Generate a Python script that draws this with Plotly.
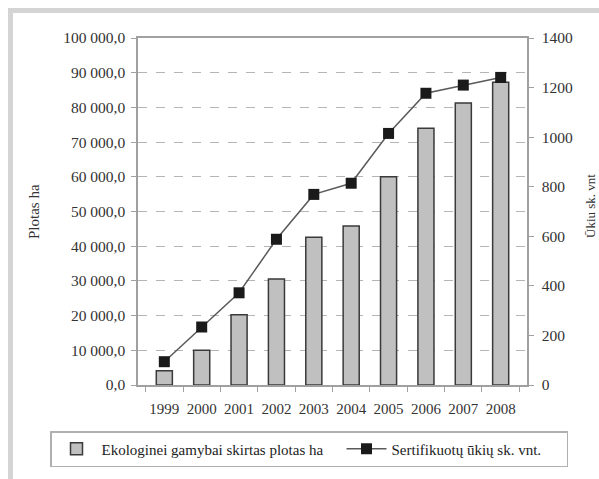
import plotly.graph_objects as go

years = ["1999", "2000", "2001", "2002", "2003", "2004", "2005", "2006", "2007", "2008"]
area_ha = [4120, 10000, 20260, 30550, 42560, 45820, 60030, 73980, 81270, 87230]
farms = [94, 234, 372, 588, 769, 814, 1015, 1177, 1210, 1241]

bar_name = "Ekologinei gamybai skirtas plotas ha"
line_name = "Sertifikuotų ūkių sk. vnt."

FONT = "Times New Roman, Liberation Serif, DejaVu Serif, serif"
TXT = "#333333"

W, H = 599, 479
L, R, T, B = 138, 527, 38, 385


def px(x):
    return (x - L) / (R - L)


def py(y):
    return (B - y) / (B - T)


fig = go.Figure()
fig.add_trace(go.Bar(
    x=years, y=area_ha, name=bar_name,
    marker=dict(color="#c0c0c0", line=dict(color="#3a3a3a", width=1.5)),
    width=0.43, legendwidth=235,
))
fig.add_trace(go.Scatter(
    x=years, y=farms, name=line_name, yaxis="y2",
    mode="lines+markers",
    line=dict(color="#5a5a5a", width=1.5),
    marker=dict(symbol="square", size=11, color="#1a1a1a"),
    legendwidth=170,
))

shapes = [
    dict(type="rect", xref="paper", yref="paper", x0=px(8), x1=px(605), y0=py(13), y1=py(8),
         fillcolor="#d4d4d4", line=dict(width=0), layer="above"),
    dict(type="rect", xref="paper", yref="paper", x0=px(8), x1=px(13), y0=py(485), y1=py(8),
         fillcolor="#d4d4d4", line=dict(width=0), layer="above"),
]

annotations = [
    dict(text="Plotas ha", xref="paper", yref="paper", x=px(34), y=py(212), textangle=-90,
         showarrow=False, font=dict(family=FONT, size=15, color=TXT), xanchor="center", yanchor="middle"),
    dict(text="Ūkiu sk. vnt", xref="paper", yref="paper", x=px(590), y=py(206), textangle=-90,
         showarrow=False, font=dict(family=FONT, size=13, color=TXT), xanchor="center", yanchor="middle"),
]

fig.update_layout(
    width=W, height=H,
    margin=dict(l=L, r=W - R, t=T, b=H - B, autoexpand=False),
    paper_bgcolor="white", plot_bgcolor="white",
    separators=", ",
    font=dict(family=FONT, size=15, color=TXT),
    shapes=shapes, annotations=annotations,
    showlegend=True,
    legend=dict(
        orientation="h",
        x=px(50), xanchor="left", y=py(431), yanchor="top",
        bordercolor="#b0b0b0", borderwidth=1.5, bgcolor="white",
        font=dict(family=FONT, size=15, color="#222222"),
        itemwidth=40, traceorder="normal",
    ),
    xaxis=dict(
        type="category", showline=True, linecolor="#a0a0a0", linewidth=1.5, mirror=True,
        ticks="outside", ticklen=5, tickcolor="#a0a0a0", tickson="boundaries",
        tickangle=0,
        tickfont=dict(family=FONT, size=15, color=TXT), ticklabelstandoff=9,
        showgrid=False,
    ),
    yaxis=dict(
        range=[0, 100000], tickvals=[i * 10000 for i in range(11)], tickformat=",.1f",
        showline=True, linecolor="#a0a0a0", linewidth=1.5,
        ticks="outside", ticklen=5, tickcolor="#a0a0a0", ticklabelstandoff=3,
        showgrid=True, gridcolor="#b5b5b5", griddash="dash", gridwidth=1,
        zeroline=False, tickfont=dict(family=FONT, size=15.5, color=TXT),
    ),
    yaxis2=dict(
        overlaying="y", side="right", range=[0, 1400], tickvals=[i * 200 for i in range(8)],
        showline=True, linecolor="#a0a0a0", linewidth=1.5,
        ticks="outside", ticklen=5, tickcolor="#a0a0a0", ticklabelstandoff=5,
        showgrid=False, zeroline=False, tickfont=dict(family=FONT, size=15.5, color=TXT),
    ),
)

fig.write_html("out.html", config={"displayModeBar": False},
               post_script="document.body.style.margin='0';")
